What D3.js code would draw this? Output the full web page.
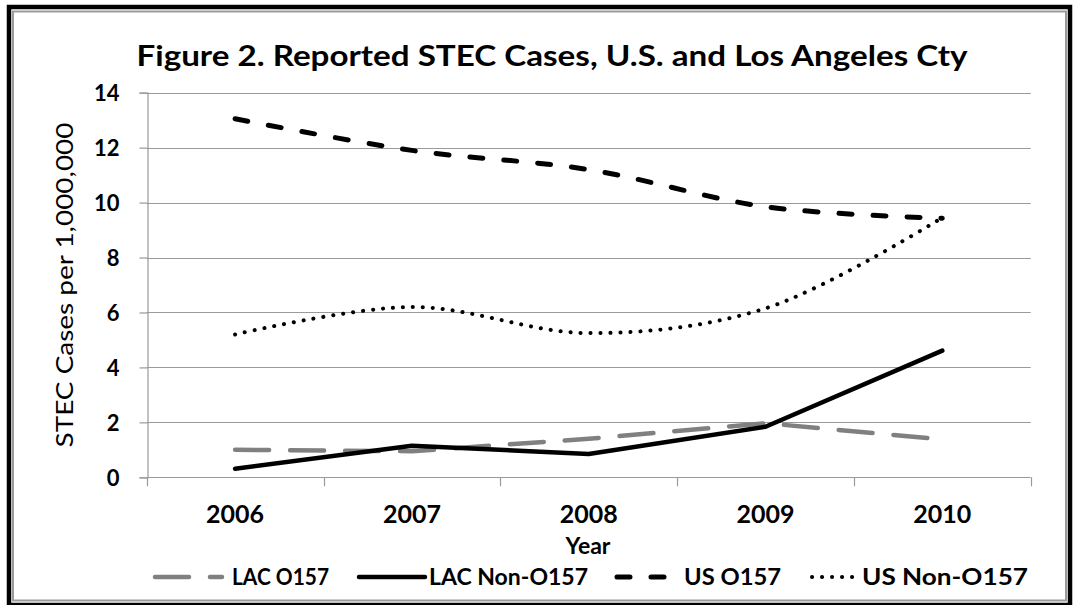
<!DOCTYPE html>
<html>
<head>
<meta charset="utf-8">
<script src="https://cdn.jsdelivr.net/npm/d3@7"></script>
<style>
  html, body { margin: 0; padding: 0; background: #fff; }
  svg { display: block; }
  text { font-family: Lato, "Open Sans", "DejaVu Sans", sans-serif; fill: #000; }
</style>
</head>
<body>
<svg id="chart" width="1075" height="605"></svg>
<script>
// ---- data ----
const years = ["2006", "2007", "2008", "2009", "2010"];
const lacO157 = [1.0, 0.95, 1.4, 1.97, 1.38];
const lacNonO157 = [0.31, 1.15, 0.85, 1.84, 4.61];
const usO157 = [13.05, 11.9, 11.2, 9.85, 9.43];
const usNonO157 = [5.2, 6.2, 5.25, 6.15, 9.45];
const yTicks = [0, 2, 4, 6, 8, 10, 12, 14];
const seriesNames = ["LAC O157", "LAC Non-O157", "US O157", "US Non-O157"];
const titleText = "Figure 2. Reported STEC Cases, U.S. and Los Angeles Cty";
const yTitle = "STEC Cases per 1,000,000";
const xTitle = "Year";

// ---- layout ----
const svg = d3.select("#chart");
const plot = { left: 146.7, right: 1030.7, top: 92.7, bottom: 477.3 };

// frame
svg.append("rect").attr("x", 9).attr("y", 7).attr("width", 1061).attr("height", 598)
  .attr("fill", "none").attr("stroke", "#000").attr("stroke-width", 4.5);
svg.append("rect").attr("x", 13).attr("y", 11.5).attr("width", 1053).attr("height", 589)
  .attr("fill", "none").attr("stroke", "#9a9a9a").attr("stroke-width", 2);

const x = d3.scaleBand().domain(years).range([plot.left, plot.right]).padding(0);
const y = d3.scaleLinear().domain([0, 14]).range([plot.bottom, plot.top]);

// gridlines
svg.append("g").selectAll("line").data(yTicks).join("line")
  .attr("x1", plot.left).attr("x2", plot.right)
  .attr("y1", d => Math.round(y(d)) + 0.5).attr("y2", d => Math.round(y(d)) + 0.5)
  .attr("stroke", "#9a9a9a").attr("stroke-width", 1.2);

// y axis
const yAxis = svg.append("g").attr("transform", `translate(${Math.round(plot.left) + 0.5},0)`)
  .call(d3.axisLeft(y).tickValues(yTicks).tickSize(8).tickPadding(20).tickFormat(d3.format("d")));
yAxis.select(".domain").attr("stroke", "#9a9a9a").attr("stroke-width", 1.2);
yAxis.selectAll(".tick line").attr("stroke", "#9a9a9a").attr("stroke-width", 1.2);
yAxis.selectAll(".tick text").attr("font-size", 22).attr("font-weight", "bold")
  .attr("font-family", "Lato, sans-serif").attr("fill", "#000").attr("dy", "0.36em");

// x axis
const xAxis = svg.append("g").attr("transform", `translate(0,${Math.round(plot.bottom) + 0.5})`)
  .call(d3.axisBottom(x).tickSize(0).tickPadding(28));
xAxis.select(".domain").remove();
xAxis.selectAll(".tick text").attr("font-size", 25).attr("font-weight", "bold")
  .attr("font-family", "Lato, sans-serif").attr("fill", "#000");
// category boundary ticks
const bounds = years.map(d => x(d)).concat([plot.right]);
svg.append("g").selectAll("line").data(bounds).join("line")
  .attr("x1", d => Math.round(d) + 0.5).attr("x2", d => Math.round(d) + 0.5)
  .attr("y1", plot.bottom).attr("y2", plot.bottom + 9)
  .attr("stroke", "#9a9a9a").attr("stroke-width", 1.2);

// series
const series = [
  { name: seriesNames[0], values: lacO157, color: "#808080", width: 4.5, dash: "34,21", curve: d3.curveLinear },
  { name: seriesNames[1], values: lacNonO157, color: "#000", width: 4.5, dash: null, curve: d3.curveLinear },
  { name: seriesNames[2], values: usO157, color: "#000", width: 5, dash: "13,21", curve: d3.curveCatmullRom.alpha(0.5) },
  { name: seriesNames[3], values: usNonO157, color: "#000", width: 4, dash: "0.1,9.9", curve: d3.curveCatmullRom.alpha(0.5) }
];
const cx = d => x(d) + x.bandwidth() / 2;
series.forEach(s => {
  const line = d3.line().x((v, i) => cx(years[i])).y(v => y(v)).curve(s.curve);
  svg.append("path").datum(s.values).attr("d", line)
    .attr("fill", "none").attr("stroke", s.color).attr("stroke-width", s.width)
    .attr("stroke-linecap", "round").attr("stroke-linejoin", "round")
    .attr("stroke-dasharray", s.dash);
});

// title
svg.append("text").attr("x", 552).attr("y", 66).attr("text-anchor", "middle")
  .attr("font-size", 29).attr("font-weight", "bold")
  .attr("textLength", 831).attr("lengthAdjust", "spacingAndGlyphs")
  .text(titleText);

// y title
svg.append("text").attr("transform", "translate(73,285) rotate(-90)")
  .attr("text-anchor", "middle").attr("font-size", 24)
  .attr("textLength", 325).attr("lengthAdjust", "spacingAndGlyphs")
  .text(yTitle);

// x title
svg.append("text").attr("x", 588).attr("y", 554).attr("text-anchor", "middle")
  .attr("font-size", 23).attr("font-weight", "bold").text(xTitle);

// legend
const legend = [
  { s: series[0], x1: 155, x2: 222, tx: 232, tw: 97 },
  { s: series[1], x1: 359, x2: 425, tx: 429, tw: 159 },
  { s: series[2], x1: 617, x2: 668, tx: 684, tw: 97 },
  { s: series[3], x1: 812, x2: 853, tx: 862, tw: 166 }
];
const lg = svg.append("g");
legend.forEach(l => {
  lg.append("line").attr("x1", l.x1).attr("x2", l.x2).attr("y1", 577).attr("y2", 577)
    .attr("stroke", l.s.color).attr("stroke-width", l.s.width)
    .attr("stroke-linecap", "round").attr("stroke-dasharray", l.s.dash);
  lg.append("text").attr("x", l.tx).attr("y", 585).attr("font-size", 22).attr("font-weight", "bold")
    .attr("textLength", l.tw).attr("lengthAdjust", "spacingAndGlyphs").text(l.s.name);
});
</script>
</body>
</html>
